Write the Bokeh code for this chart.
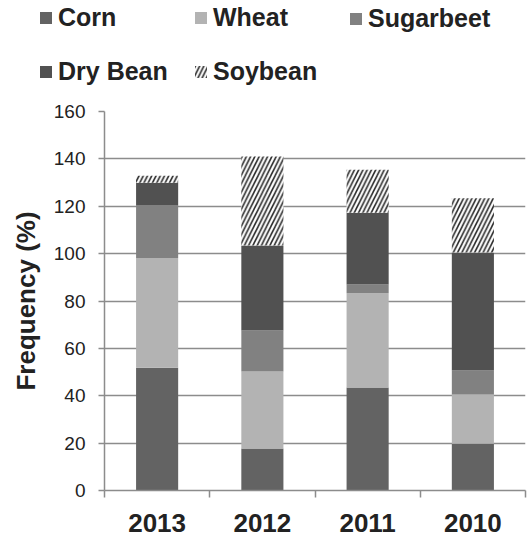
from bokeh.plotting import figure
from bokeh.models import ColumnDataSource, Legend, LegendItem, FixedTicker, Range1d
from bokeh.transform import stack
from bokeh.embed import file_html
from bokeh.resources import INLINE

# ---- data ----
years = ["2013", "2012", "2011", "2010"]
corn = [51.8, 17.7, 43.5, 19.7]
wheat = [46.4, 32.5, 39.8, 20.8]
sugarbeet = [22.1, 17.3, 3.7, 10.2]
dry_bean = [9.6, 35.9, 30.3, 49.8]
soybean = [3.0, 37.6, 18.1, 22.9]
y_ticks = [0, 20, 40, 60, 80, 100, 120, 140, 160]
series = ["Corn", "Wheat", "Sugarbeet", "Dry Bean", "Soybean"]
colors = ["#636363", "#b3b3b3", "#818181", "#515151", "white"]

x = [i + 0.5 for i in range(len(years))]
src = ColumnDataSource(dict(x=x, Corn=corn, Wheat=wheat, Sugarbeet=sugarbeet,
                            **{"Dry Bean": dry_bean}, Soybean=soybean))

FONT = "Liberation Sans"
GRID = "#8c8c8c"
TXT = "#222222"
HATCH = dict(hatch_pattern="/", hatch_color="#2a2a2a", hatch_scale=8.5, hatch_weight=1.6)


def style_for(name):
    return HATCH if name == "Soybean" else {}


# ---------------- main chart ----------------
p = figure(width=532, height=447, title=None,
           x_range=Range1d(0, len(years)), y_range=Range1d(y_ticks[0], y_ticks[-1]),
           output_backend="svg", toolbar_location=None,
           min_border_left=104, min_border_right=7, min_border_top=21, min_border_bottom=47)
p.outline_line_color = None

for i, name in enumerate(series):
    p.vbar(x="x", width=0.4, bottom=stack(*series[:i]), top=stack(*series[:i + 1]),
           source=src, fill_color=colors[i], line_color=None, **style_for(name))

p.xgrid.visible = False
p.ygrid.ticker = FixedTicker(ticks=y_ticks)
p.ygrid.grid_line_color = GRID
p.ygrid.grid_line_width = 1.5

p.yaxis.ticker = FixedTicker(ticks=y_ticks)
p.yaxis.axis_line_color = GRID
p.yaxis.axis_line_width = 1.5
p.yaxis.major_tick_line_color = GRID
p.yaxis.major_tick_line_width = 1.5
p.yaxis.major_tick_out = 6
p.yaxis.major_tick_in = 0
p.yaxis.minor_tick_line_color = None
p.yaxis.major_label_text_font = FONT
p.yaxis.major_label_text_font_size = "19px"
p.yaxis.major_label_text_color = TXT
p.yaxis.major_label_standoff = 13
p.yaxis.axis_label = "Frequency (%)"
p.yaxis.axis_label_text_font = FONT
p.yaxis.axis_label_text_font_size = "26px"
p.yaxis.axis_label_text_font_style = "bold"
p.yaxis.axis_label_text_color = TXT
p.yaxis.axis_label_standoff = 10

p.xaxis.ticker = FixedTicker(ticks=x, minor_ticks=list(range(len(years) + 1)))
p.xaxis.major_label_overrides = {xv: y for xv, y in zip(x, years)}
p.xaxis.axis_line_color = GRID
p.xaxis.axis_line_width = 1.5
p.xaxis.major_tick_line_color = None
p.xaxis.major_tick_out = 0
p.xaxis.major_tick_in = 0
p.xaxis.minor_tick_line_color = GRID
p.xaxis.minor_tick_line_width = 1.5
p.xaxis.minor_tick_out = 7
p.xaxis.minor_tick_in = 0
p.xaxis.major_label_text_font = FONT
p.xaxis.major_label_text_font_size = "26px"
p.xaxis.major_label_text_font_style = "bold"
p.xaxis.major_label_text_color = TXT
p.xaxis.major_label_standoff = 16

# ---------------- legend strip (separate root, so its frame is the full strip) ----------------
lf = figure(width=532, height=90, title=None, x_range=Range1d(0, 1), y_range=Range1d(0, 1),
            x_axis_type=None, y_axis_type=None, output_backend="svg", toolbar_location=None,
            min_border_left=0, min_border_right=0, min_border_top=0, min_border_bottom=0)
lf.outline_line_color = None
lf.xgrid.visible = False
lf.ygrid.visible = False

# proxy renderers for the legend keys (placed outside the visible range)
leg_renderers = []
for i, name in enumerate(series):
    r = lf.vbar(x=[-5], top=[0], bottom=[-1], width=0.4, fill_color=colors[i],
                line_color=None, **style_for(name))
    leg_renderers.append(r)


def make_legend(idx, loc):
    lg = Legend(items=[LegendItem(label=series[k], renderers=[leg_renderers[k]]) for k in idx],
                location=loc, orientation="vertical", padding=0, margin=0,
                border_line_color=None, background_fill_alpha=0,
                glyph_width=15, glyph_height=15, label_standoff=5, spacing=25,
                label_text_font=FONT, label_text_font_size="25px",
                label_text_font_style="bold", label_text_color=TXT)
    lf.add_layout(lg)


make_legend([0, 3], (38, 4))
make_legend([1, 4], (193, 4))
make_legend([2], (348, 57))

open("out.html", "w").write(file_html([lf, p], INLINE))
